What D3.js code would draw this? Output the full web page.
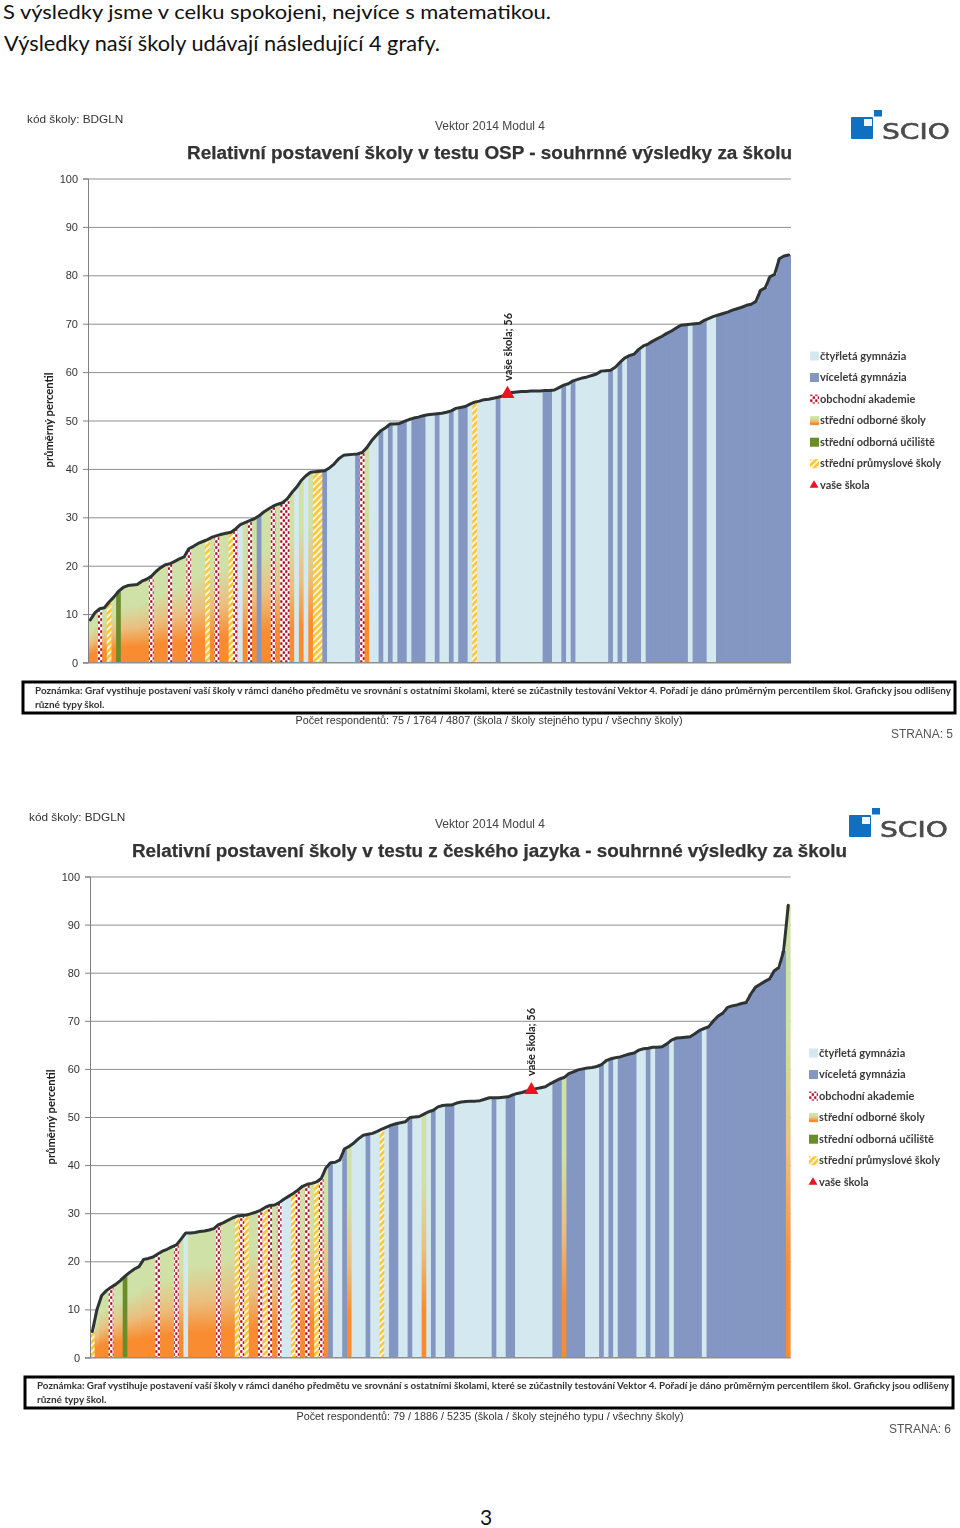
<!DOCTYPE html>
<html lang="cs">
<head>
<meta charset="utf-8">
<script src="https://cdn.jsdelivr.net/npm/d3@7"></script>
<style>
html,body{margin:0;padding:0;background:#fff}
svg{display:block}
.chart{filter:blur(0.35px)}
</style>
</head>
<body>
<div id="root"></div>
<script>
const headingLines = ["S výsledky jsme v celku spokojeni, nejvíce s matematikou.", "Výsledky naší školy udávají následující 4 grafy."];
const pageNumber = "3";
const percentTicks = [0,10,20,30,40,50,60,70,80,90,100];
const legendCodes = ["a","v","o","s","u","p","m"];
const legendLabels = ["čtyřletá gymnázia","víceletá gymnázia","obchodní akademie","střední odborné školy","střední odborná učiliště","střední průmyslové školy","vaše škola"];
const noteLines = ["Poznámka: Graf vystihuje postavení vaší školy v rámci daného předmětu ve srovnání s ostatními školami, které se zúčastnily testování Vektor 4. Pořadí je dáno průměrným percentilem škol. Graficky jsou odlišeny","různé typy škol."];

const ospValues = [8.8,10.3,11.1,11.3,12.5,13.5,14.7,15.5,15.9,16.0,16.1,16.8,17.2,17.8,18.8,19.6,20.2,20.4,20.9,21.4,21.8,23.5,24,24.6,25,25.4,25.9,26.2,26.5,26.7,26.9,27.6,28.5,28.9,29.3,29.7,30.3,31.1,31.7,32.3,32.7,33,33.8,35.1,36.2,37.6,38.6,39.3,39.4,39.5,39.6,40.2,41,42.1,42.8,42.9,43,43.1,43.4,44.4,45.8,46.9,47.9,48.5,49.3,49.3,49.4,49.8,50.2,50.5,50.7,51,51.2,51.3,51.4,51.5,51.7,52,52.5,52.7,52.9,53.4,53.8,54,54.3,54.4,54.6,54.8,55.1,55.5,55.8,55.9,56,56,56.1,56.1,56.1,56.2,56.2,56.3,56.8,57.3,57.6,58.2,58.5,58.8,59,59.3,59.6,60.2,60.3,60.4,61,62,62.9,63.4,63.7,64.7,65.4,65.8,66.4,66.9,67.4,68,68.5,69.1,69.7,69.8,69.9,70,70.1,70.7,71.1,71.5,71.8,72.1,72.4,72.8,73.1,73.4,73.8,74,74.6,76.9,77.4,79.7,80.2,83.4,84,84.2];
const ospTypeRuns = [["s",2],["o",1],["s",1],["p",1],["s",1],["u",1],["s",6],["o",1],["s",3],["o",1],["s",3],["o",1],["s",3],["p",1],["s",1],["o",1],["s",2],["p",1],["o",1],["a",1],["s",1],["o",1],["s",1],["v",1],["s",2],["o",1],["s",1],["o",2],["s",1],["a",1],["s",1],["a",1],["s",1],["p",2],["v",1],["a",6],["v",1],["o",1],["s",1],["a",2],["v",1],["a",1],["v",1],["a",1],["v",2],["a",1],["v",3],["a",2],["v",1],["a",2],["v",1],["a",1],["v",2],["a",1],["p",1],["a",4],["v",1],["a",9],["v",2],["a",2],["v",1],["a",1],["v",1],["a",7],["v",1],["a",1],["v",1],["a",1],["v",3],["a",1],["v",9],["a",1],["v",3],["a",2],["v",16]];
const ospMarkerIndex = 89;

const czValues = [5.4,10,12.9,13.9,14.6,15.2,16,16.9,17.7,18.4,18.9,20.4,20.6,20.9,21.5,22.1,22.5,23,23.4,24.6,25.9,25.9,26,26.2,26.3,26.5,26.8,27.6,28,28.5,29,29.4,29.5,29.6,29.9,30.2,30.6,31.2,31.6,31.7,32.2,32.9,33.5,34.1,34.8,35.6,36,36.2,36.5,37.2,39.4,40.5,40.6,41.1,43.4,43.9,44.6,45.5,46.2,46.4,46.6,47,47.5,47.9,48.3,48.6,48.8,49,49.9,50,50.1,50.6,51.1,51.4,52.1,52.4,52.5,52.5,52.9,53.1,53.2,53.3,53.3,53.4,53.7,54,54,54,54.1,54.2,54.6,54.9,55.1,55.4,55.6,55.9,56.1,56.3,56.9,57.4,57.9,58.2,59,59.4,59.8,60,60.2,60.3,60.5,60.9,61.7,62.1,62.3,62.5,62.8,63.1,63.3,63.9,64.2,64.3,64.5,64.5,64.6,65.2,66,66.4,66.5,66.6,66.7,67.3,68,68.4,68.8,70,71,71.6,72.8,73.1,73.3,73.6,73.8,75.6,77,77.6,78.2,78.7,80.4,81.1,84.5,94];
const czTypeRuns = [["p",1],["s",3],["o",1],["s",2],["u",1],["s",6],["o",1],["s",3],["o",1],["s",1],["a",1],["s",6],["o",1],["s",3],["p",1],["o",1],["p",1],["s",2],["o",1],["p",1],["o",1],["s",1],["o",1],["a",2],["p",1],["o",1],["s",1],["o",1],["s",1],["p",1],["o",1],["s",1],["v",1],["a",2],["v",1],["s",1],["a",3],["v",1],["a",2],["p",1],["a",1],["v",2],["a",2],["v",1],["a",2],["s",1],["a",1],["v",1],["a",2],["v",2],["a",8],["v",1],["a",2],["v",2],["a",8],["v",2],["s",1],["v",4],["a",3],["v",1],["a",1],["v",1],["a",1],["v",4],["a",2],["v",1],["a",1],["v",3],["a",1],["v",6],["a",1],["v",17],["s",1]];
const czMarkerIndex = 94;

const CAL = "Lato, Carlito, sans-serif";
const ARIAL = "'Liberation Sans', Arial, sans-serif";
const svg = d3.select("#root").append("svg").attr("width",960).attr("height",1528);
const defs = svg.append("defs");

const grad = defs.append("linearGradient").attr("id","gradS").attr("x1",0).attr("y1",0).attr("x2",0).attr("y2",1);
[[0,"#cfe1a6"],[0.27,"#cfe1a6"],[0.55,"#eabf7f"],[0.8,"#f98c30"],[1,"#f98c30"]].forEach(d=>grad.append("stop").attr("offset",d[0]).attr("stop-color",d[1]));

const hatch = defs.append("pattern").attr("id","patP").attr("patternUnits","userSpaceOnUse").attr("width",4.5).attr("height",4.5).attr("patternTransform","rotate(-45)");
hatch.append("rect").attr("width",4.5).attr("height",4.5).attr("fill","#fff6dc");
hatch.append("rect").attr("width",4.5).attr("height",2.6).attr("fill","#fbc63a");

const dots = defs.append("pattern").attr("id","patO").attr("patternUnits","userSpaceOnUse").attr("width",5).attr("height",6);
dots.append("rect").attr("width",5).attr("height",6).attr("fill","#fff");
dots.append("rect").attr("x",0.2).attr("y",0.3).attr("width",2.2).attr("height",2.5).attr("fill","#b3001e");
dots.append("rect").attr("x",2.7).attr("y",3.3).attr("width",2.2).attr("height",2.5).attr("fill","#b3001e");

const fills = {a:"#d3e8ef", v:"#8496c2", o:"url(#patO)", s:"url(#gradS)", u:"#6a8c2a", p:"url(#patP)"};
const expand = runs => d3.merge(runs.map(r=>d3.range(r[1]).map(()=>r[0])));

function drawChart(c){
  const g = svg.append("g").attr("class","chart");
  const types = expand(c.runs);
  const x = d3.scaleBand().domain(d3.range(c.values.length)).range([c.x0,c.x1]);
  const y = d3.scaleLinear().domain([0,100]).range([c.y0,c.y100]);

  g.append("g").attr("transform",`translate(${c.x0},0)`)
    .call(d3.axisLeft(y).tickValues(percentTicks).tickSize(-(c.x1-c.x0)).tickFormat(""))
    .call(a=>a.select(".domain").remove())
    .selectAll("line").attr("stroke","#8f8f8f").attr("stroke-width",1);

  g.append("g").selectAll("rect").data(c.values).join("rect")
    .attr("x",(d,i)=>x(i)).attr("width",(d,i)=>x.bandwidth()+(i<c.values.length-1?1:0))
    .attr("y",d=>y(d)).attr("height",d=>y(0)-y(d))
    .attr("fill",(d,i)=>fills[types[i]]);

  const ax = g.append("g").attr("transform",`translate(${c.x0},0)`)
    .call(d3.axisLeft(y).tickValues(percentTicks).tickSize(5).tickPadding(5));
  ax.selectAll("path,line").attr("stroke","#808080");
  ax.selectAll("text").attr("font-family",ARIAL).attr("font-size",11).attr("fill","#333");
  g.append("line").attr("x1",c.x0-5).attr("x2",c.x1).attr("y1",y(0)).attr("y2",y(0)).attr("stroke","#8f8f8f");

  g.append("path").datum(c.values)
    .attr("d",d3.line().x((d,i)=>x(i)+x.bandwidth()/2).y(d=>y(d)))
    .attr("fill","none").attr("stroke","#2e3434").attr("stroke-width",3).attr("stroke-linejoin","round").attr("stroke-linecap","round");

  const mx = x(c.marker)+x.bandwidth()/2, my = y(c.values[c.marker]);
  g.append("path").attr("transform",`translate(${mx},${my})`).attr("d",d3.symbol(d3.symbolTriangle,85)).attr("fill","#ee1122");
  g.append("text").attr("transform",`translate(${c.lab[0]},${c.lab[1]}) rotate(-90)`)
    .attr("font-family",CAL).attr("font-weight",700).attr("font-size",11).attr("fill","#222")
    .attr("textLength",68).attr("lengthAdjust","spacingAndGlyphs").text("vaše škola; 56");

  g.append("text").attr("x",c.code[0]).attr("y",c.code[1]).attr("font-family",ARIAL).attr("font-size",11.8).attr("fill","#333").text("kód školy: BDGLN");
  g.append("text").attr("x",490).attr("y",c.vek).attr("text-anchor","middle").attr("font-family",ARIAL).attr("font-size",12).attr("fill","#444").text("Vektor 2014 Modul 4");
  g.append("text").attr("x",c.title[0]).attr("y",c.title[1]).attr("font-family",ARIAL).attr("font-weight",700).attr("font-size",18).attr("fill","#333")
    .attr("stroke","#333").attr("stroke-width",0.25)
    .attr("textLength",c.title[2]).attr("lengthAdjust","spacingAndGlyphs").text(c.titleText);
  g.append("text").attr("transform",`translate(${c.ylab[0]},${c.ylab[1]}) rotate(-90)`).attr("text-anchor","middle")
    .attr("font-family",CAL).attr("font-weight",700).attr("font-size",10.8).attr("fill","#222")
    .attr("textLength",95).attr("lengthAdjust","spacingAndGlyphs").text("průměrný percentil");

  // legend
  const lg = g.append("g").selectAll("g").data(legendLabels).join("g")
    .attr("transform",(d,i)=>`translate(${c.leg[0]},${c.leg[1]+i*21.55})`);
  lg.append("text").attr("x",10).attr("y",3.5).attr("font-family",CAL).attr("font-weight",700).attr("font-size",11).attr("fill","#3a3a3a").text(d=>d);
  lg.each(function(d,i){
    const k = legendCodes[i], s = d3.select(this);
    if(k==="m") s.append("path").attr("transform","translate(4,0)").attr("d",d3.symbol(d3.symbolTriangle,34)).attr("fill","#ee1122");
    else s.append("rect").attr("x",0).attr("y",-4.5).attr("width",9).attr("height",9).attr("fill",fills[k]);
  });

  // logo
  const L = c.logo;
  g.append("rect").attr("x",L[0]).attr("y",L[1]+7).attr("width",22).attr("height",22).attr("rx",1).attr("fill","#0f6fc0");
  g.append("rect").attr("x",L[0]+13).attr("y",L[1]+9).attr("width",8).attr("height",7).attr("fill","#eef5fb");
  g.append("rect").attr("x",L[0]+23).attr("y",L[1]).attr("width",8).attr("height",6.5).attr("fill","#0f6fc0");
  g.append("text").attr("x",L[0]+31).attr("y",L[1]+29).attr("font-family","'DejaVu Sans',sans-serif").attr("font-size",22).attr("fill","#4a4a4a")
    .attr("stroke","#4a4a4a").attr("stroke-width",0.6)
    .attr("textLength",68).attr("lengthAdjust","spacingAndGlyphs").text("SCIO");

  // note
  g.append("rect").attr("x",c.note[0]).attr("y",c.note[1]).attr("width",c.note[2]).attr("height",31).attr("fill","none").attr("stroke","#000").attr("stroke-width",3);
  g.append("text").attr("x",c.note[0]+12).attr("y",c.note[1]+12).attr("font-family",CAL).attr("font-weight",700).attr("font-size",9.5).attr("fill","#333")
    .attr("textLength",c.note[2]-16).attr("lengthAdjust","spacingAndGlyphs").text(noteLines[0]);
  g.append("text").attr("x",c.note[0]+12).attr("y",c.note[1]+26).attr("font-family",CAL).attr("font-weight",700).attr("font-size",10).attr("fill","#333").text(noteLines[1]);
  g.append("text").attr("x",c.count[0]).attr("y",c.count[1]).attr("text-anchor","middle").attr("font-family",ARIAL).attr("font-size",10.5).attr("fill","#333")
    .attr("textLength",387).attr("lengthAdjust","spacingAndGlyphs").text(c.countText);
  g.append("text").attr("x",c.page[0]).attr("y",c.page[1]).attr("text-anchor","end").attr("font-family",ARIAL).attr("font-size",12).attr("fill","#555").text(c.pageText);
}

svg.append("text").attr("x",3).attr("y",19).attr("font-family",CAL).attr("font-size",19.5).attr("fill","#111").attr("textLength",548).attr("lengthAdjust","spacingAndGlyphs").text(headingLines[0]);
svg.append("text").attr("x",4).attr("y",51).attr("font-family",CAL).attr("font-size",20.5).attr("fill","#111").attr("textLength",436).attr("lengthAdjust","spacingAndGlyphs").text(headingLines[1]);

drawChart({values:ospValues,runs:ospTypeRuns,marker:ospMarkerIndex,x0:88,x1:791,y0:662.5,y100:178.5,
  lab:[512,381],code:[27,123],vek:130,title:[187,159,605],titleText:"Relativní postavení školy v testu OSP - souhrnné výsledky za školu",
  ylab:[53,420],leg:[810,356],logo:[851,110],note:[23,682,932],count:[489,724],countText:"Počet respondentů: 75 / 1764 / 4807 (škola / školy stejného typu / všechny školy)",page:[953,738],pageText:"STRANA: 5"});
drawChart({values:czValues,runs:czTypeRuns,marker:czMarkerIndex,x0:90,x1:790.6,y0:1357.5,y100:876.5,
  lab:[535,1076],code:[29,821],vek:828,title:[132,857,715],titleText:"Relativní postavení školy v testu z českého jazyka - souhrnné výsledky za školu",
  ylab:[55,1117],leg:[809,1053],logo:[849,808],note:[25,1377,928],count:[490,1420],countText:"Počet respondentů: 79 / 1886 / 5235 (škola / školy stejného typu / všechny školy)",page:[951,1433],pageText:"STRANA: 6"});

svg.append("text").attr("x",486).attr("y",1525).attr("text-anchor","middle").attr("font-family",CAL).attr("font-size",21).attr("fill","#111").text(pageNumber);
</script>
</body>
</html>
